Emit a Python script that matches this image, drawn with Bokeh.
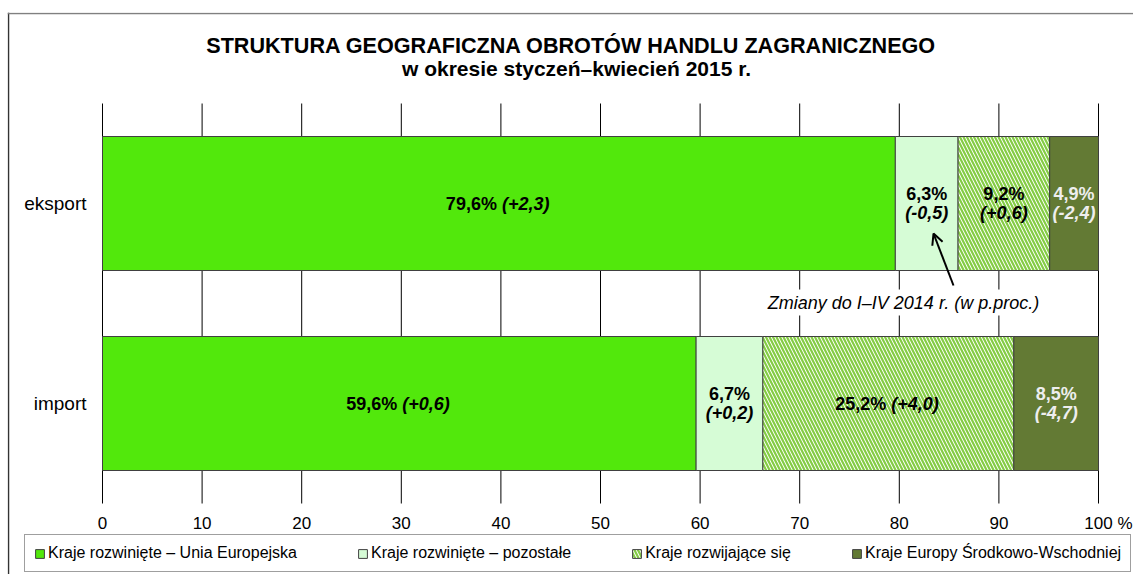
from bokeh.plotting import figure
from bokeh.models import (Range1d, FixedTicker, ColumnDataSource, Label, Span,
                          Arrow, OpenHead, Legend, LegendItem)
from bokeh.embed import file_html
from bokeh.resources import INLINE
from bokeh.core.properties import value

# ---------------- data ----------------
categories = ["eksport", "import"]
series = ["Kraje rozwinięte – Unia Europejska", "Kraje rozwinięte – pozostałe",
          "Kraje rozwijające się", "Kraje Europy Środkowo-Wschodniej"]
eksport_share = [79.6, 6.3, 9.2, 4.9]
import_share = [59.6, 6.7, 25.2, 8.5]
eksport_change = [2.3, -0.5, 0.6, -2.4]
import_change = [0.6, 0.2, 4.0, -4.7]
x_ticks = [0, 10, 20, 30, 40, 50, 60, 70, 80, 90, 100]
title1 = "STRUKTURA GEOGRAFICZNA OBROTÓW HANDLU ZAGRANICZNEGO"
title2 = "w okresie styczeń–kwiecień 2015 r."
note = "Zmiany do I–IV 2014 r. (w p.proc.)"

FONT = "Liberation Sans"
fills = ["#52E80C", "#D6FCD6", "white", "#637A34"]
hatches = [None, None, "\\", None]
text_colors = ["black", "black", "black", "#EEEEEE"]

W, H = 1133, 574
# plot area in pixels (layout constants)
PX0, PX100 = 102, 1098        # x = 0 and x = 100
PY_TOP, PY_BOT = 103, 503     # top / bottom of the category band
FL, FT = 7, 12                # frame left / top
ppx = (PX100 - PX0) / 100.0
ppy = (PY_BOT - PY_TOP) / len(categories)
x_start = (FL - PX0) / ppx
x_end = (W - PX0) / ppx
y_end = len(categories) + (PY_TOP - FT) / ppy
y_start = -(H - PY_BOT) / ppy

def ydat(py):
    return len(categories) - (py - PY_TOP) / ppy

def xdat(px):
    return (px - PX0) / ppx

p = figure(width=W, height=H, output_backend="svg", toolbar_location=None, title=None,
           x_range=Range1d(x_start, x_end), y_range=Range1d(y_start, y_end),
           min_border_left=FL, min_border_right=0, min_border_top=FT, min_border_bottom=0)
p.outline_line_color = None
p.background_fill_color = "white"
p.border_fill_color = "white"
p.xgrid.grid_line_color = None
p.ygrid.grid_line_color = None

cat_y = {c: len(categories) - i - 0.5 for i, c in enumerate(categories)}
shares = {"eksport": eksport_share, "import": import_share}
changes = {"eksport": eksport_change, "import": import_change}

# vertical grid lines over the category band
p.segment(x0=x_ticks, x1=x_ticks, y0=[0] * len(x_ticks), y1=[len(categories)] * len(x_ticks),
          line_color="black", line_width=1)

def fmt(v):
    return f"{v:.1f}".replace(".", ",")

legend_items = []
label_rows = dict(x=[], y=[], bold=[], ital=[], color=[], single=[])
for i, s in enumerate(series):
    left, right, ys = [], [], []
    for c in categories:
        start = sum(shares[c][:i])
        left.append(start)
        right.append(start + shares[c][i])
        ys.append(cat_y[c])
        label_rows["x"].append(start + shares[c][i] / 2)
        label_rows["y"].append(cat_y[c])
        label_rows["bold"].append(fmt(shares[c][i]) + "%")
        ch = changes[c][i]
        label_rows["ital"].append("(" + ("+" if ch >= 0 else "") + fmt(ch) + ")")
        label_rows["color"].append(text_colors[i])
        label_rows["single"].append(shares[c][i] > 20)
    src = ColumnDataSource(dict(y=ys, left=left, right=right))
    kw = dict(fill_color=fills[i], line_color="#404040", line_width=1)
    if hatches[i]:
        kw.update(hatch_pattern=hatches[i], hatch_color="#84CC44", hatch_scale=7, hatch_weight=2.2)
    r = p.hbar(y="y", left="left", right="right", height=0.67, source=src, **kw)
    legend_items.append(LegendItem(label=s, renderers=[r]))

# bar labels
def sub(cond):
    idx = [k for k, v in enumerate(label_rows["single"]) if v == cond]
    return ColumnDataSource({k: [label_rows[k][j] for j in idx] for k in label_rows})

s1 = sub(True)
s2 = sub(False)
common = dict(text_font=value(FONT), text_font_size="18px", text_baseline="middle",
              text_color="color")
p.text(x="x", y="y", text="bold", source=s1, text_align="right", x_offset=-2,
       text_font_style="bold", **common)
p.text(x="x", y="y", text="ital", source=s1, text_align="left", x_offset=3,
       text_font_style="bold italic", **common)
p.text(x="x", y="y", text="bold", source=s2, text_align="center", y_offset=-10,
       text_font_style="bold", **common)
p.text(x="x", y="y", text="ital", source=s2, text_align="center", y_offset=9,
       text_font_style="bold italic", **common)

# axes (library axes, fixed at the plot-area edges)
p.xaxis.ticker = FixedTicker(ticks=x_ticks)
p.xaxis.fixed_location = 0
p.yaxis.ticker = FixedTicker(ticks=[cat_y[c] for c in categories])
p.yaxis.major_label_overrides = {cat_y[c]: c for c in categories}
p.yaxis.fixed_location = 0
for ax in (p.xaxis, p.yaxis):
    ax.axis_line_color = None
    ax.major_tick_line_color = None
    ax.minor_tick_line_color = None
    ax.major_label_text_font = FONT
    ax.major_label_text_color = "black"
p.xaxis.major_label_text_font_size = "17px"
p.xaxis.major_label_standoff = 7
p.yaxis.major_label_text_font_size = "19px"
p.yaxis.major_label_standoff = 10

# title
p.add_layout(Label(x=xdat(571), y=ydat(45), text=title1, text_align="center",
                   text_baseline="middle", text_color="black",
                   text_font=FONT, text_font_size="21.6px", text_font_style="bold"))
p.add_layout(Label(x=xdat(576), y=ydat(68), text=title2, text_align="center",
                   text_baseline="middle", text_color="black",
                   text_font=FONT, text_font_size="21px", text_font_style="bold"))
# percent sign after last tick
p.add_layout(Label(x=100, y=ydat(523), x_offset=19, text="%", text_align="left",
                   text_baseline="middle", text_color="black",
                   text_font=FONT, text_font_size="17px"))

# annotation
p.add_layout(Arrow(x_start=xdat(953), y_start=ydat(285), x_end=xdat(933), y_end=ydat(233),
                   line_width=2, line_color="black",
                   end=OpenHead(size=11, line_width=2, line_color="black")))
p.add_layout(Label(x=xdat(903), y=ydat(302), text=note, text_align="center",
                   text_baseline="middle", text_color="black",
                   text_font=FONT, text_font_size="18px", text_font_style="italic",
                   background_fill_color="white", padding=3))

# outer chart border (top and left edges visible)
p.add_layout(Span(location=xdat(8), dimension="height", line_color="#333333", line_width=1.5))
p.add_layout(Span(location=ydat(13), dimension="width", line_color="#808080", line_width=1.5))

legend = Legend(items=legend_items, orientation="horizontal", location=(17, 2),
                label_text_font=FONT, label_text_font_size="16px", label_text_color="black",
                glyph_width=11, glyph_height=11, label_standoff=3, spacing=60, padding=9,
                margin=0, border_line_color="#404040", border_line_width=1,
                background_fill_color="white", background_fill_alpha=1)
p.add_layout(legend, "center")

open("out.html", "w").write(file_html(p, INLINE))
